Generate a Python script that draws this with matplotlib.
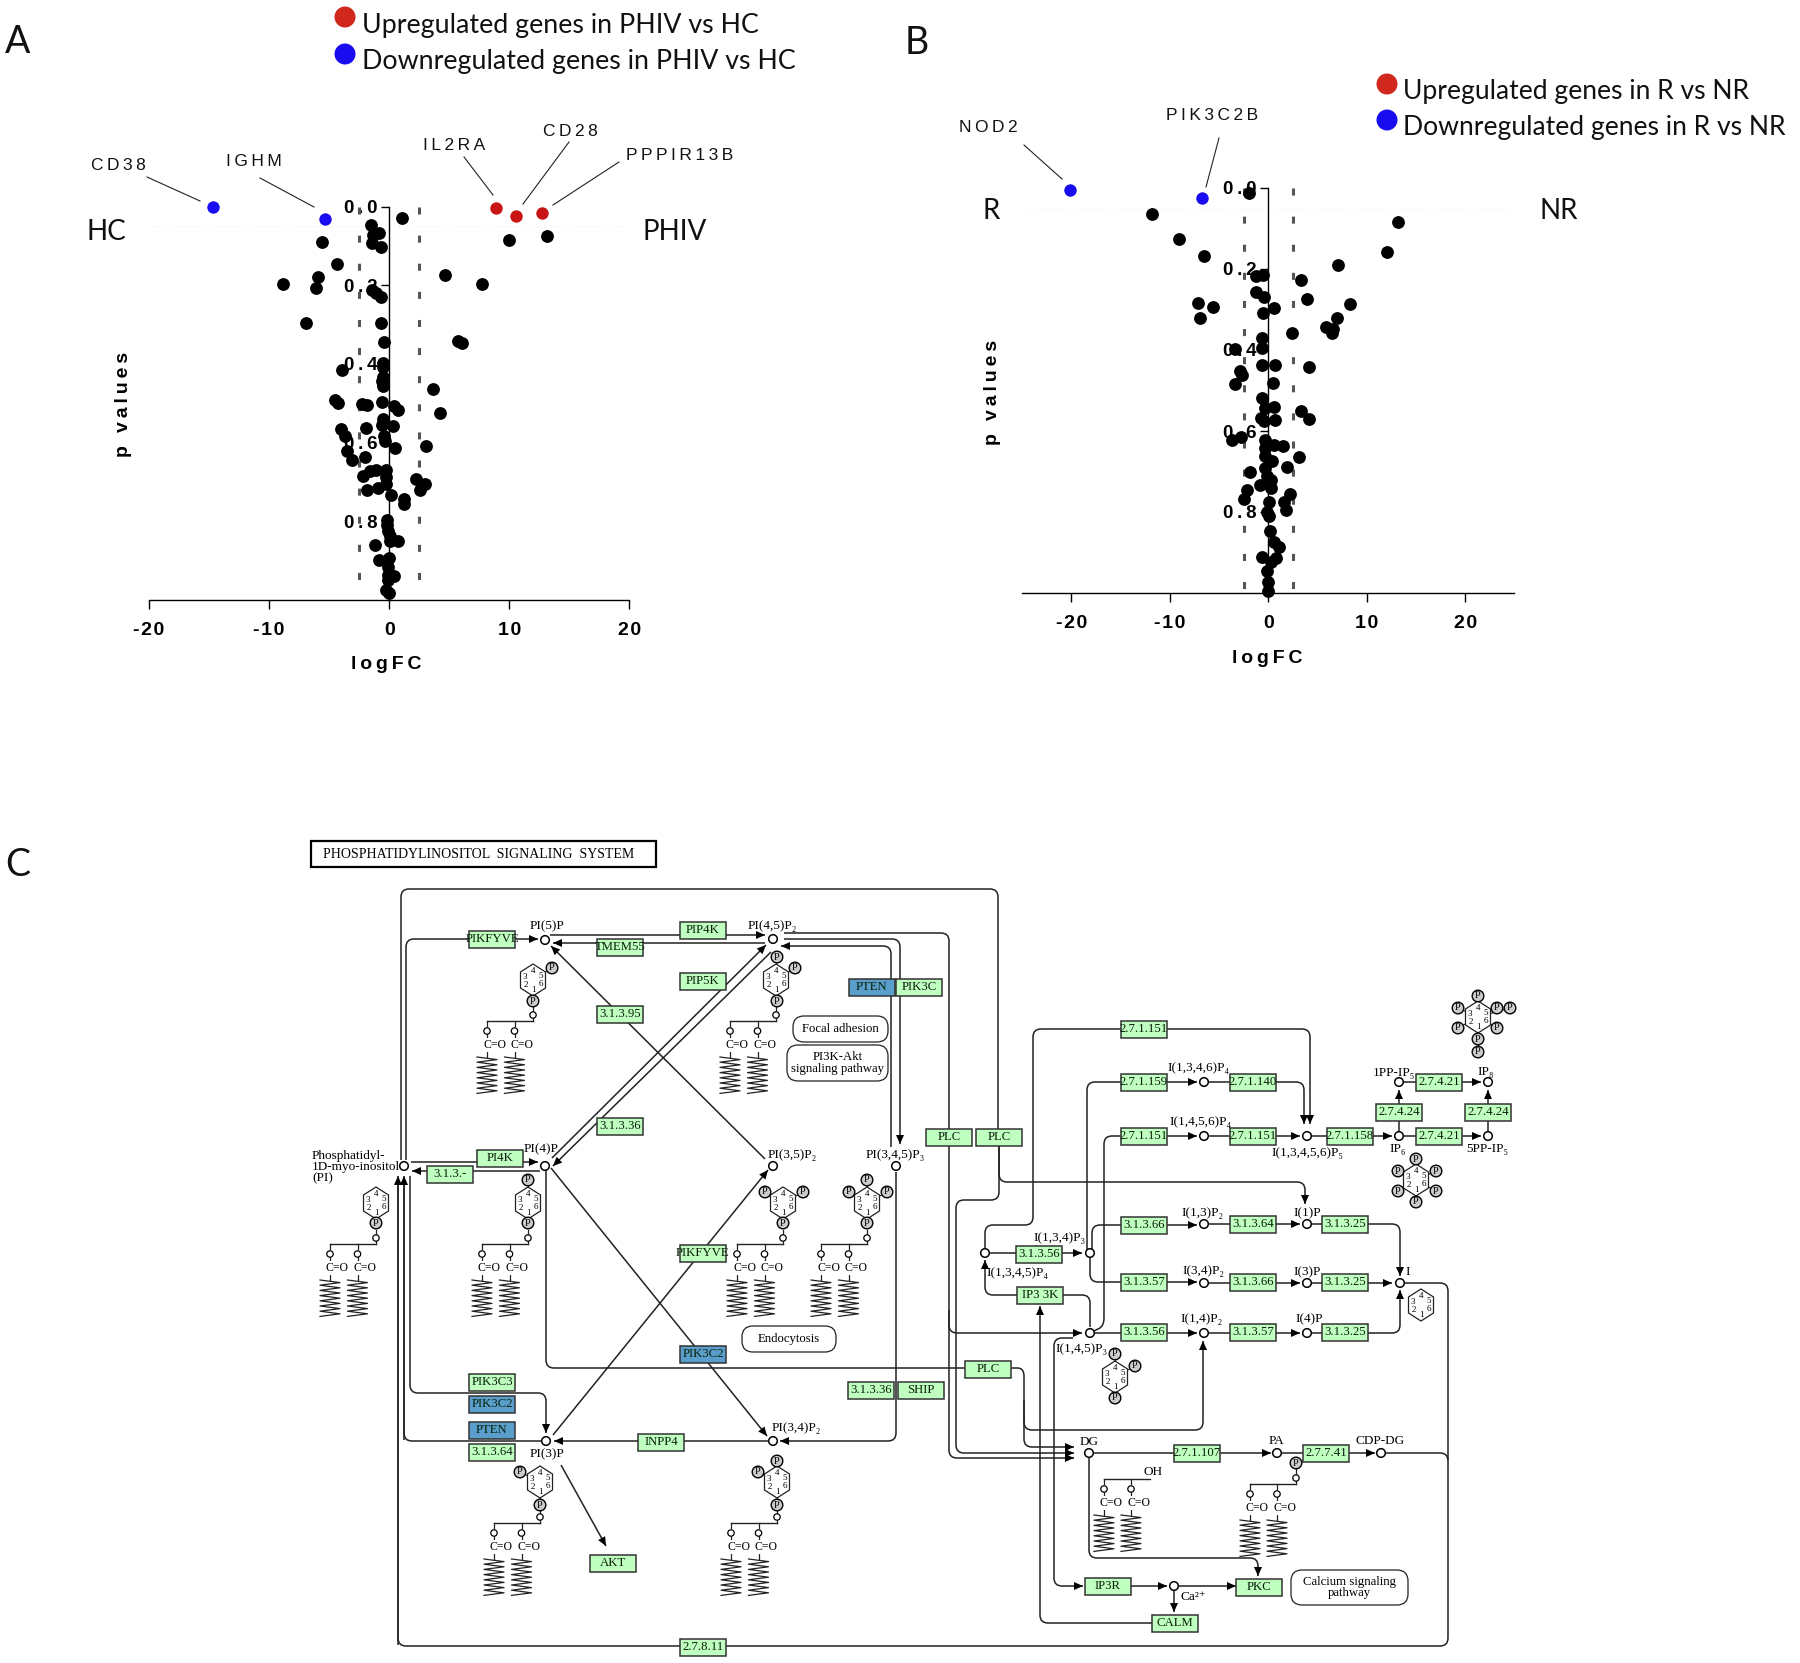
import matplotlib
matplotlib.use('Agg')
import matplotlib.pyplot as plt
from matplotlib.patches import Circle, FancyBboxPatch, Polygon, PathPatch, Rectangle
from matplotlib.path import Path

# ---- panel A: logFC / p value
a_x = [1.05, -1.53, -.85, -1.33, -1.43, -.68, -5.61, -4.32, -5.95, -8.88, -6.12, -1.43, -1.09, -.65, -6.94, -.65,
       -.44, 4.63, 7.76, 10.0, 13.1, 5.71, 6.05, -.48, -.48, -3.91, -.48, -.58, -.48, 3.67, -4.49, -4.25, -.58,
       -2.24, -1.84, .44, .71, 4.22, -.48, -.58, .34, -4.05, -1.94, -3.71, -.41, -.34, .51, 3.03, -3.5, -2.01,
       -3.13, -.24, -1.09, -1.6, -2.21, -.24, -.24, 2.21, 2.99, 2.55, -.92, -1.87, .17, 1.22, 1.22, -.2, -.17,
       -.1, .1, .71, .1, -1.19, -.03, -.88, -.07, .37, -.07, -.07, -.24, 0]
a_p = [.029, .047, .068, .073, .092, .104, .090, .146, .178, .197, .208, .213, .219, .229, .297, .295,
       .344, .173, .197, .084, .076, .341, .347, .398, .408, .416, .434, .444, .455, .463, .493, .500, .497,
       .501, .505, .507, .516, .526, .539, .556, .559, .565, .564, .582, .584, .596, .613, .609, .622, .636,
       .644, .669, .669, .672, .686, .688, .706, .693, .704, .720, .716, .721, .733, .744, .757, .797, .810,
       .825, .838, .849, .849, .861, .894, .898, .917, .938, .936, .948, .974, .983]
a_down_x = [-14.69, -5.31]
a_down_p = [.001, .031]
a_up_x = [8.88, 10.58, 12.76]
a_up_p = [.005, .023, .017]

# ---- panel B
b_x = [-1.95, -11.78, -9.05, -6.56, 13.2, 12.03, 7.1, -1.2, -.5, 3.28, -1.24, -.46, 3.9, -7.14, -5.56, .58, -.54,
       -6.93, 8.34, 6.97, 5.85, 6.6, 6.47, 2.41, -.58, -.66, -3.36, -.58, .66, 4.11, -2.82, -2.61, .5, -3.4, -.58,
       .54, -.37, 3.32, 4.19, -.71, -.46, .66, -3.69, -2.74, -.29, -.29, .54, 1.54, -.29, 3.15, .37, -.29, 1.87,
       -1.83, -.17, .25, -.87, .25, -2.16, -2.41, 2.24, 1.62, .12, 1.83, -.17, .04, .17, .54, 1.08, .79, -.58, .25,
       -.17, -.04, 0]
b_p = [.012, .063, .125, .168, .085, .158, .191, .217, .216, .228, .257, .270, .273, .283, .294, .296, .309,
       .320, .286, .322, .343, .349, .359, .358, .370, .394, .398, .437, .438, .441, .451, .461, .481, .483, .519,
       .541, .544, .551, .570, .567, .576, .572, .623, .616, .621, .641, .634, .638, .662, .664, .674, .692, .689,
       .702, .711, .720, .734, .741, .746, .769, .756, .776, .776, .794, .799, .811, .846, .874, .887, .914, .911,
       .923, .946, .974, .994]
b_down_x = [-20.12, -6.68]
b_down_p = [.005, .024]

x_ticks = [-20, -10, 0, 10, 20]
x_tick_labels = ['-20', '-10', '0', '10', '20']
y_ticks = [0, .2, .4, .6, .8]
y_tick_labels = ['0.0', '0.2', '0.4', '0.6', '0.8']
cutoff = 2.5
p_line = 0.05

# gene labels: text, text centre, leader start, leader end (picture pixels)
gene_labels = [
    ('CD38', 118, 165, (147, 177), (200, 201)),
    ('IGHM', 254, 161, (260, 178), (314, 207)),
    ('IL2RA', 454, 145, (464, 157), (493, 195)),
    ('CD28', 570, 131, (569, 142), (523, 204)),
    ('PPPIR13B', 680, 155, (619, 162), (553, 205)),
    ('NOD2', 988, 128, (1024, 145), (1062, 179)),
    ('PIK3C2B', 1212, 116, (1219, 138), (1206, 187)),
]

# ---- panel C: pathway map, picture pixels
green_boxes = [
    ('PIKFYVE', 492, 939), ('PIP4K', 703, 930), ('TMEM55', 620, 947), ('PIP5K', 703, 981), ('PIK3C', 919, 987),
    ('3.1.3.95', 620, 1014), ('3.1.3.36', 620, 1126), ('PI4K', 500, 1158), ('3.1.3.-', 450, 1174),
    ('PLC', 949, 1137), ('PLC', 999, 1137), ('PIKFYVE', 703, 1253), ('PIK3C3', 492, 1382), ('3.1.3.64', 492, 1452),
    ('INPP4', 661, 1442), ('3.1.3.36', 871, 1390), ('SHIP', 921, 1390), ('PLC', 988, 1369), ('AKT', 613, 1563),
    ('2.7.8.11', 703, 1647), ('2.7.1.151', 1144, 1029), ('2.7.1.159', 1144, 1082), ('2.7.1.140', 1253, 1082),
    ('2.7.1.151', 1144, 1136), ('2.7.1.151', 1253, 1136), ('2.7.1.158', 1350, 1136), ('2.7.4.24', 1399, 1112),
    ('2.7.4.24', 1488, 1112), ('2.7.4.21', 1439, 1082), ('2.7.4.21', 1439, 1136), ('3.1.3.66', 1144, 1225),
    ('3.1.3.64', 1253, 1224), ('3.1.3.25', 1345, 1224), ('3.1.3.56', 1039, 1254), ('3.1.3.57', 1144, 1282),
    ('3.1.3.66', 1253, 1282), ('3.1.3.25', 1345, 1282), ('IP3 3K', 1040, 1295), ('3.1.3.56', 1144, 1332),
    ('3.1.3.57', 1253, 1332), ('3.1.3.25', 1345, 1332), ('2.7.1.107', 1197, 1453), ('2.7.7.41', 1326, 1453),
    ('IP3R', 1108, 1586), ('PKC', 1259, 1587), ('CALM', 1175, 1623),
]
blue_boxes = [('PTEN', 872, 987), ('PIK3C2', 703, 1354), ('PIK3C2', 492, 1404), ('PTEN', 492, 1430)]

nodes = [(545, 940), (773, 939), (545, 1166), (404, 1166), (773, 1166), (896, 1166), (546, 1441), (773, 1441),
         (1204, 1082), (1204, 1136), (1307, 1136), (1399, 1136), (1488, 1136), (1399, 1082), (1488, 1082),
         (1204, 1224), (1307, 1224), (985, 1253), (1090, 1253), (1204, 1283), (1307, 1283), (1400, 1283),
         (1090, 1333), (1204, 1333), (1307, 1333), (1089, 1453), (1277, 1453), (1381, 1453), (1174, 1586)]

node_labels = [
    ('PI(5)P', 547, 926), ('PI(4,5)P₂', 772, 926), ('PI(4)P', 541, 1149), ('PI(3,5)P₂', 792, 1155),
    ('PI(3,4,5)P₃', 895, 1155), ('PI(3)P', 547, 1454), ('PI(3,4)P₂', 796, 1428), ('I(1,3,4,6)P₄', 1199, 1068),
    ('I(1,4,5,6)P₄', 1201, 1122), ('I(1,3,4,5,6)P₅', 1307, 1153), ('IP₆', 1398, 1149), ('5PP-IP₅', 1487, 1149),
    ('1PP-IP₅', 1394, 1073), ('IP₈', 1486, 1072), ('I(1,3)P₂', 1203, 1213), ('I(1)P', 1307, 1213),
    ('I(1,3,4)P₃', 1060, 1238), ('I(1,3,4,5)P₄', 1017, 1273), ('I(3,4)P₂', 1203, 1271), ('I(3)P', 1307, 1272),
    ('I', 1408, 1272), ('I(1,4)P₂', 1202, 1319), ('I(4)P', 1309, 1319), ('I(1,4,5)P₃', 1082, 1349),
    ('DG', 1089, 1442), ('PA', 1276, 1441), ('CDP-DG', 1380, 1441), ('Ca²⁺', 1193, 1597), ('OH', 1153, 1472),
]

# rounded map links: (x, y, width, height, text)
map_boxes = [
    (793, 1016, 95, 26, 'Focal adhesion'),
    (787, 1045, 101, 36, 'PI3K-Akt\nsignaling pathway'),
    (742, 1326, 94, 26, 'Endocytosis'),
    (1291, 1570, 117, 35, 'Calcium signaling\npathway'),
]

# (points, has arrow head at the end)
edges = [
    ([(401, 1160), (401, 889), (998, 889), (998, 1130)], False),
    ([(999, 1145), (999, 1200), (956, 1200), (956, 1453), (1074, 1453)], True),
    ([(406, 1160), (406, 939), (538, 939)], True),
    ([(398, 1645), (398, 1176)], True),
    ([(1381, 1453), (1448, 1453), (1448, 1646), (398, 1646), (398, 1180)], False),
    ([(404, 1440), (404, 1176)], True),
    ([(546, 1441), (404, 1441), (404, 1180)], False),
    ([(410, 1176), (410, 1393), (546, 1393), (546, 1433)], True),
    ([(411, 1162), (538, 1162)], True),
    ([(540, 1171), (412, 1171)], True),
    ([(550, 935), (765, 935)], True),
    ([(765, 943), (553, 943)], True),
    ([(552, 1158), (766, 945)], True),
    ([(771, 952), (553, 1166)], True),
    ([(765, 1159), (551, 946)], True),
    ([(551, 1168), (767, 1436)], True),
    ([(553, 1435), (768, 1170)], True),
    ([(546, 1170), (546, 1368), (965, 1368)], False),
    ([(891, 1147), (891, 946), (781, 946)], True),
    ([(784, 939), (900, 939), (900, 1144)], True),
    ([(784, 933), (949, 933), (949, 1130)], False),
    ([(949, 1145), (949, 1458), (1074, 1458)], True),
    ([(1011, 1368), (1024, 1368), (1024, 1447), (1074, 1447)], True),
    ([(1024, 1400), (1024, 1430), (1203, 1430), (1203, 1341)], True),
    ([(999, 1145), (999, 1182), (1305, 1182), (1305, 1204)], True),
    ([(949, 1310), (949, 1333), (1082, 1333)], True),
    ([(1121, 1029), (1033, 1029), (1033, 1225), (985, 1225), (985, 1249)], False),
    ([(1167, 1029), (1310, 1029), (1310, 1124)], True),
    ([(1121, 1082), (1087, 1082), (1087, 1250)], False),
    ([(1167, 1082), (1197, 1082)], True),
    ([(1204, 1082), (1304, 1082), (1304, 1124)], True),
    ([(1121, 1136), (1104, 1136), (1104, 1326), (1094, 1331)], False),
    ([(1167, 1136), (1197, 1136)], True),
    ([(1204, 1136), (1300, 1136)], True),
    ([(1307, 1136), (1392, 1136)], True),
    ([(1399, 1136), (1481, 1136)], True),
    ([(1488, 1136), (1488, 1090)], True),
    ([(1399, 1136), (1399, 1090)], True),
    ([(1399, 1082), (1481, 1082)], True),
    ([(985, 1253), (1082, 1253)], True),
    ([(1092, 1250), (1092, 1225), (1197, 1225)], True),
    ([(1204, 1224), (1300, 1224)], True),
    ([(1307, 1224), (1400, 1224), (1400, 1276)], True),
    ([(1090, 1258), (1090, 1282), (1197, 1282)], True),
    ([(1204, 1283), (1300, 1283)], True),
    ([(1307, 1283), (1392, 1283)], True),
    ([(1017, 1295), (985, 1295), (985, 1260)], True),
    ([(1063, 1295), (1090, 1295), (1090, 1327)], False),
    ([(1152, 1623), (1040, 1623), (1040, 1306)], True),
    ([(1090, 1333), (1197, 1333)], True),
    ([(1204, 1333), (1300, 1333)], True),
    ([(1307, 1333), (1400, 1333), (1400, 1290)], True),
    ([(1400, 1283), (1448, 1283), (1448, 1460)], False),
    ([(1073, 1338), (1054, 1338), (1054, 1586), (1083, 1586)], True),
    ([(1131, 1586), (1167, 1586)], True),
    ([(1174, 1586), (1236, 1586)], True),
    ([(1174, 1586), (1174, 1612)], True),
    ([(1089, 1458), (1089, 1558), (1258, 1558), (1258, 1576)], True),
    ([(1089, 1453), (1271, 1453)], True),
    ([(1277, 1453), (1375, 1453)], True),
    ([(896, 1172), (896, 1441), (780, 1441)], True),
    ([(773, 1441), (554, 1441)], True),
    ([(561, 1465), (606, 1546)], True),
]

# inositol rings: centre and phosphate circles; lipid = has the glycerol tail
rings = [
    (533, 980, [(552, 968), (533, 1001)], True),
    (776, 980, [(777, 957), (795, 968), (777, 1001)], True),
    (376, 1203, [(376, 1223)], True),
    (528, 1203, [(528, 1180), (528, 1223)], True),
    (783, 1203, [(765, 1192), (803, 1192), (783, 1223)], True),
    (867, 1203, [(867, 1180), (849, 1192), (887, 1192), (867, 1223)], True),
    (540, 1482, [(520, 1472), (540, 1505)], True),
    (777, 1482, [(777, 1461), (758, 1472), (777, 1505)], True),
    (1478, 1017, [(1478, 996), (1458, 1008), (1458, 1028), (1497, 1008), (1510, 1008), (1497, 1028), (1478, 1039),
                  (1478, 1052)], False),
    (1416, 1180, [(1416, 1159), (1398, 1171), (1436, 1171), (1398, 1191), (1436, 1191), (1416, 1202)], False),
    (1421, 1305, [], False),
    (1115, 1377, [(1115, 1354), (1135, 1366), (1115, 1398)], False),
]

W, H = 1800, 1663
line_col = '#222222'
box_green = '#bfffbf'
box_blue = '#5a9fcb'
blue = '#1a0cf0'
red = '#c81414'
serif = 'Liberation Serif'


def track(s, gap='\u2009'):
    # the gene and axis labels have wide letter spacing
    return gap.join(s)


fig = plt.figure(figsize=(W / 100, H / 100), dpi=100)
canvas = fig.add_axes([0, 0, 1, 1])
canvas.set_xlim(0, W)
canvas.set_ylim(H, 0)
canvas.axis('off')


def volcano(left, right, top, bottom, xlim, xs, ps, down_x, down_p, up_x, up_p, xlab_pos, ylab_pos):
    ax = fig.add_axes([left / W, 1 - bottom / H, (right - left) / W, (bottom - top) / H])
    ax.patch.set_visible(False)
    ax.set_xlim(*xlim)
    ax.set_ylim(1, 0)
    for s in ['top', 'right']:
        ax.spines[s].set_visible(False)
    ax.spines['left'].set_position(('data', 0))
    ax.spines['left'].set_linewidth(1.0)
    ax.spines['bottom'].set_linewidth(1.0)
    ax.set_xticks(x_ticks)
    ax.set_xticklabels([track(t, '\u200a') for t in x_tick_labels], family='Liberation Sans', weight='bold', fontsize=14)
    ax.set_yticks(y_ticks)
    ax.set_yticklabels([track(t) for t in y_tick_labels], family='Liberation Sans', weight='bold', fontsize=13.5)
    ax.tick_params(axis='x', length=6.5, width=1.0, pad=9)
    ax.tick_params(axis='y', length=5.5, width=1.0, pad=3)
    ax.hlines(p_line, xlim[0], xlim[1], color='#f0f0f0', lw=0.8, linestyles=(0, (1, 3)), zorder=1)
    for c in [-cutoff, cutoff]:
        ax.plot([c, c], [0, .99], color='#555555', lw=2.2, linestyle=(0, (2.3, 6.9)), zorder=2)
    ax.scatter(xs, ps, s=85, c='black', linewidths=0, zorder=3, clip_on=False)
    ax.scatter(down_x, down_p, s=80, c=blue, linewidths=0, zorder=4, clip_on=False)
    if up_x:
        ax.scatter(up_x, up_p, s=80, c=red, linewidths=0, zorder=4, clip_on=False)
    ax.set_xlabel(track('logFC'), family='Liberation Sans', weight='bold', fontsize=14, va='center')
    ax.set_ylabel(track('p values'), family='Liberation Sans', weight='bold', fontsize=14, va='center')
    ax.xaxis.set_label_coords(*xlab_pos)
    ax.yaxis.set_label_coords(*ylab_pos)
    return ax


volcano(149, 629.4, 206.5, 600, (-20, 20), a_x, a_p, a_down_x, a_down_p, a_up_x, a_up_p, (.494, -.165), (-.054, .498))
volcano(1022, 1514.4, 188, 593, (-25, 25), b_x, b_p, b_down_x, b_down_p, [], [], (.4976, -.1616), (-.059, .4955))

# gene labels and leaders
for name, tx, ty, p0, p1 in gene_labels:
    canvas.text(tx, ty, track(name), family='Liberation Sans', fontsize=12.5, ha='center', va='center', color='#111111')
    canvas.plot([p0[0], p1[0]], [p0[1], p1[1]], color='#222222', lw=0.8)

# side labels and legends, Lato is close to the Calibri of the figure
for t, x, y in [('HC', 106, 232), ('PHIV', 675, 232), ('R', 991, 211), ('NR', 1559, 211)]:
    canvas.text(x, y, t, family='Lato', fontsize=20, ha='center', va='center', color='#111111')
for t, x, y in [('A', 18, 42), ('B', 917, 43), ('C', 18, 865)]:
    canvas.text(x, y, t, family='Lato', fontsize=27, ha='center', va='center', color='#111111')
for t, x, y, c in [('Upregulated genes in PHIV vs HC', 345, 17, '#d0281c'),
                   ('Downregulated genes in PHIV vs HC', 345, 54, blue)]:
    canvas.add_patch(Circle((x, y), 10.5, fc=c, ec='none'))
    canvas.text(x + 17, y + 8, t, family='Lato', fontsize=19.3, ha='left', va='center', color='#111111')
for t, x, y, c in [('Upregulated genes in R vs NR', 1387, 84, '#d0281c'),
                   ('Downregulated genes in R vs NR', 1387, 120, blue)]:
    canvas.add_patch(Circle((x, y), 10.5, fc=c, ec='none'))
    canvas.text(x + 16, y + 7, t, family='Lato', fontsize=19.1, ha='left', va='center', color='#111111')


def rounded(pts, r=8):
    verts = [pts[0]]
    codes = [Path.MOVETO]
    for i in range(1, len(pts) - 1):
        p, c, n = pts[i - 1], pts[i], pts[i + 1]
        d0 = ((c[0] - p[0]) ** 2 + (c[1] - p[1]) ** 2) ** .5
        d1 = ((n[0] - c[0]) ** 2 + (n[1] - c[1]) ** 2) ** .5
        r0 = min(r, d0 / 2)
        r1 = min(r, d1 / 2)
        verts += [(c[0] - (c[0] - p[0]) * r0 / d0, c[1] - (c[1] - p[1]) * r0 / d0), c,
                  (c[0] + (n[0] - c[0]) * r1 / d1, c[1] + (n[1] - c[1]) * r1 / d1)]
        codes += [Path.LINETO, Path.CURVE3, Path.CURVE3]
    verts.append(pts[-1])
    codes.append(Path.LINETO)
    return Path(verts, codes)


for pts, head in edges:
    canvas.add_patch(PathPatch(rounded(pts), fc='none', ec=line_col, lw=1.1, zorder=2))
    if head:
        (x0, y0), (x1, y1) = pts[-2], pts[-1]
        d = ((x1 - x0) ** 2 + (y1 - y0) ** 2) ** .5
        ux, uy = (x1 - x0) / d, (y1 - y0) / d
        canvas.add_patch(Polygon([(x1, y1), (x1 - 9 * ux - 4 * uy, y1 - 9 * uy + 4 * ux),
                                  (x1 - 9 * ux + 4 * uy, y1 - 9 * uy - 4 * ux)], fc='black', ec='none', zorder=3))

canvas.add_patch(Rectangle((311, 841), 345, 25.5, fc='white', ec='black', lw=1.6, zorder=3))
canvas.text(323, 855, 'PHOSPHATIDYLINOSITOL  SIGNALING  SYSTEM', family=serif, fontsize=10, ha='left', va='center',
            zorder=4)

for boxes, col in [(green_boxes, box_green), (blue_boxes, box_blue)]:
    for t, x, y in boxes:
        canvas.add_patch(Rectangle((x - 23, y - 8.5), 46, 17, fc=col, ec='#333333', lw=1.1, zorder=4))
        canvas.text(x, y, t, family=serif, fontsize=9.2, ha='center', va='center', zorder=5, color='#0a200a')

for x, y in nodes:
    canvas.add_patch(Circle((x, y), 4.3, fc='white', ec='black', lw=1.1, zorder=5))
for t, x, y in node_labels:
    canvas.text(x, y, t, family=[serif, 'DejaVu Serif'], fontsize=9.5, ha='center', va='center', zorder=5)
canvas.text(312, 1167, 'Phosphatidyl-\n1D-myo-inositol\n(PI)', family=serif, fontsize=9.5, ha='left', va='center',
            linespacing=0.9, zorder=5)

for x, y, w, h, t in map_boxes:
    canvas.add_patch(FancyBboxPatch((x, y), w, h, boxstyle='round,pad=0,rounding_size=11', fc='white', ec='#222222',
                                    lw=0.9, zorder=3))
    canvas.text(x + w / 2, y + h / 2, t, family=serif, fontsize=9.2, ha='center', va='center', linespacing=0.95, zorder=4)


def lipid_chain(x, y_top):
    # y_top is the height of the glycerol backbone
    canvas.plot([x, x], [y_top, y_top + 5], color=line_col, lw=0.9, zorder=2)
    canvas.add_patch(Circle((x, y_top + 10), 3.2, fc='white', ec='black', lw=0.9, zorder=3))
    canvas.plot([x, x], [y_top + 13, y_top + 36], color=line_col, lw=0.9, zorder=2)
    canvas.text(x - 4, y_top + 24, 'C=O', family=serif, fontsize=8.5, ha='left', va='center', zorder=4,
                bbox=dict(fc='white', ec='none', pad=0.4))
    zig = []
    for i in range(15):
        zig.append((x + (10 if i % 2 else -10), y_top + 36 + i * 2.6))
    canvas.plot(*zip(*zig), color=line_col, lw=0.9, zorder=2)


def tail(x, y_back, xs, right=None):
    canvas.plot([xs[0], right if right else x], [y_back, y_back], color=line_col, lw=1.0, zorder=2)
    for c in xs:
        lipid_chain(c, y_back)


for hx, hy, phos, lipid in rings:
    canvas.add_patch(Polygon([(hx, hy - 16), (hx + 12.5, hy - 8), (hx + 12.5, hy + 8), (hx, hy + 16), (hx - 12.5, hy + 8),
                              (hx - 12.5, hy - 8)], fc='white', ec='#222222', lw=0.9, zorder=3))
    for d, dx, dy in [('4', 0, -9), ('1', 0, 10), ('3', -8, -3), ('2', -7, 5), ('5', 8, -4), ('6', 8, 4)]:
        canvas.text(hx + dx, hy + dy, d, family=serif, fontsize=6.5, ha='center', va='center', zorder=4)
    for px, py in phos:
        canvas.plot([hx, px], [hy, py], color=line_col, lw=0.8, zorder=2)
        canvas.add_patch(Circle((px, py), 5.8, fc='#cccccc', ec='black', lw=1.0, zorder=5))
        canvas.text(px, py, 'P', family=serif, fontsize=7.5, ha='center', va='center', zorder=6)
    if lipid:
        canvas.add_patch(Circle((hx, hy + 35), 3.2, fc='white', ec='black', lw=0.9, zorder=3))
        canvas.plot([hx, hx], [hy + 27, hy + 41], color=line_col, lw=0.9, zorder=2)
        tail(hx, hy + 41, [hx - 46, hx - 18.5])

# free DG and PA tails
tail(1150, 1479, [1104, 1131])
canvas.add_patch(Circle((1296, 1463), 5.8, fc='#cccccc', ec='black', lw=1.0, zorder=5))
canvas.text(1296, 1463, 'P', family=serif, fontsize=7.5, ha='center', va='center', zorder=6)
canvas.plot([1296, 1296], [1468, 1484], color=line_col, lw=0.9, zorder=2)
canvas.add_patch(Circle((1296, 1478), 3.2, fc='white', ec='black', lw=0.9, zorder=3))
tail(1296, 1484, [1250, 1277])

fig.savefig('out.png', dpi=100)
